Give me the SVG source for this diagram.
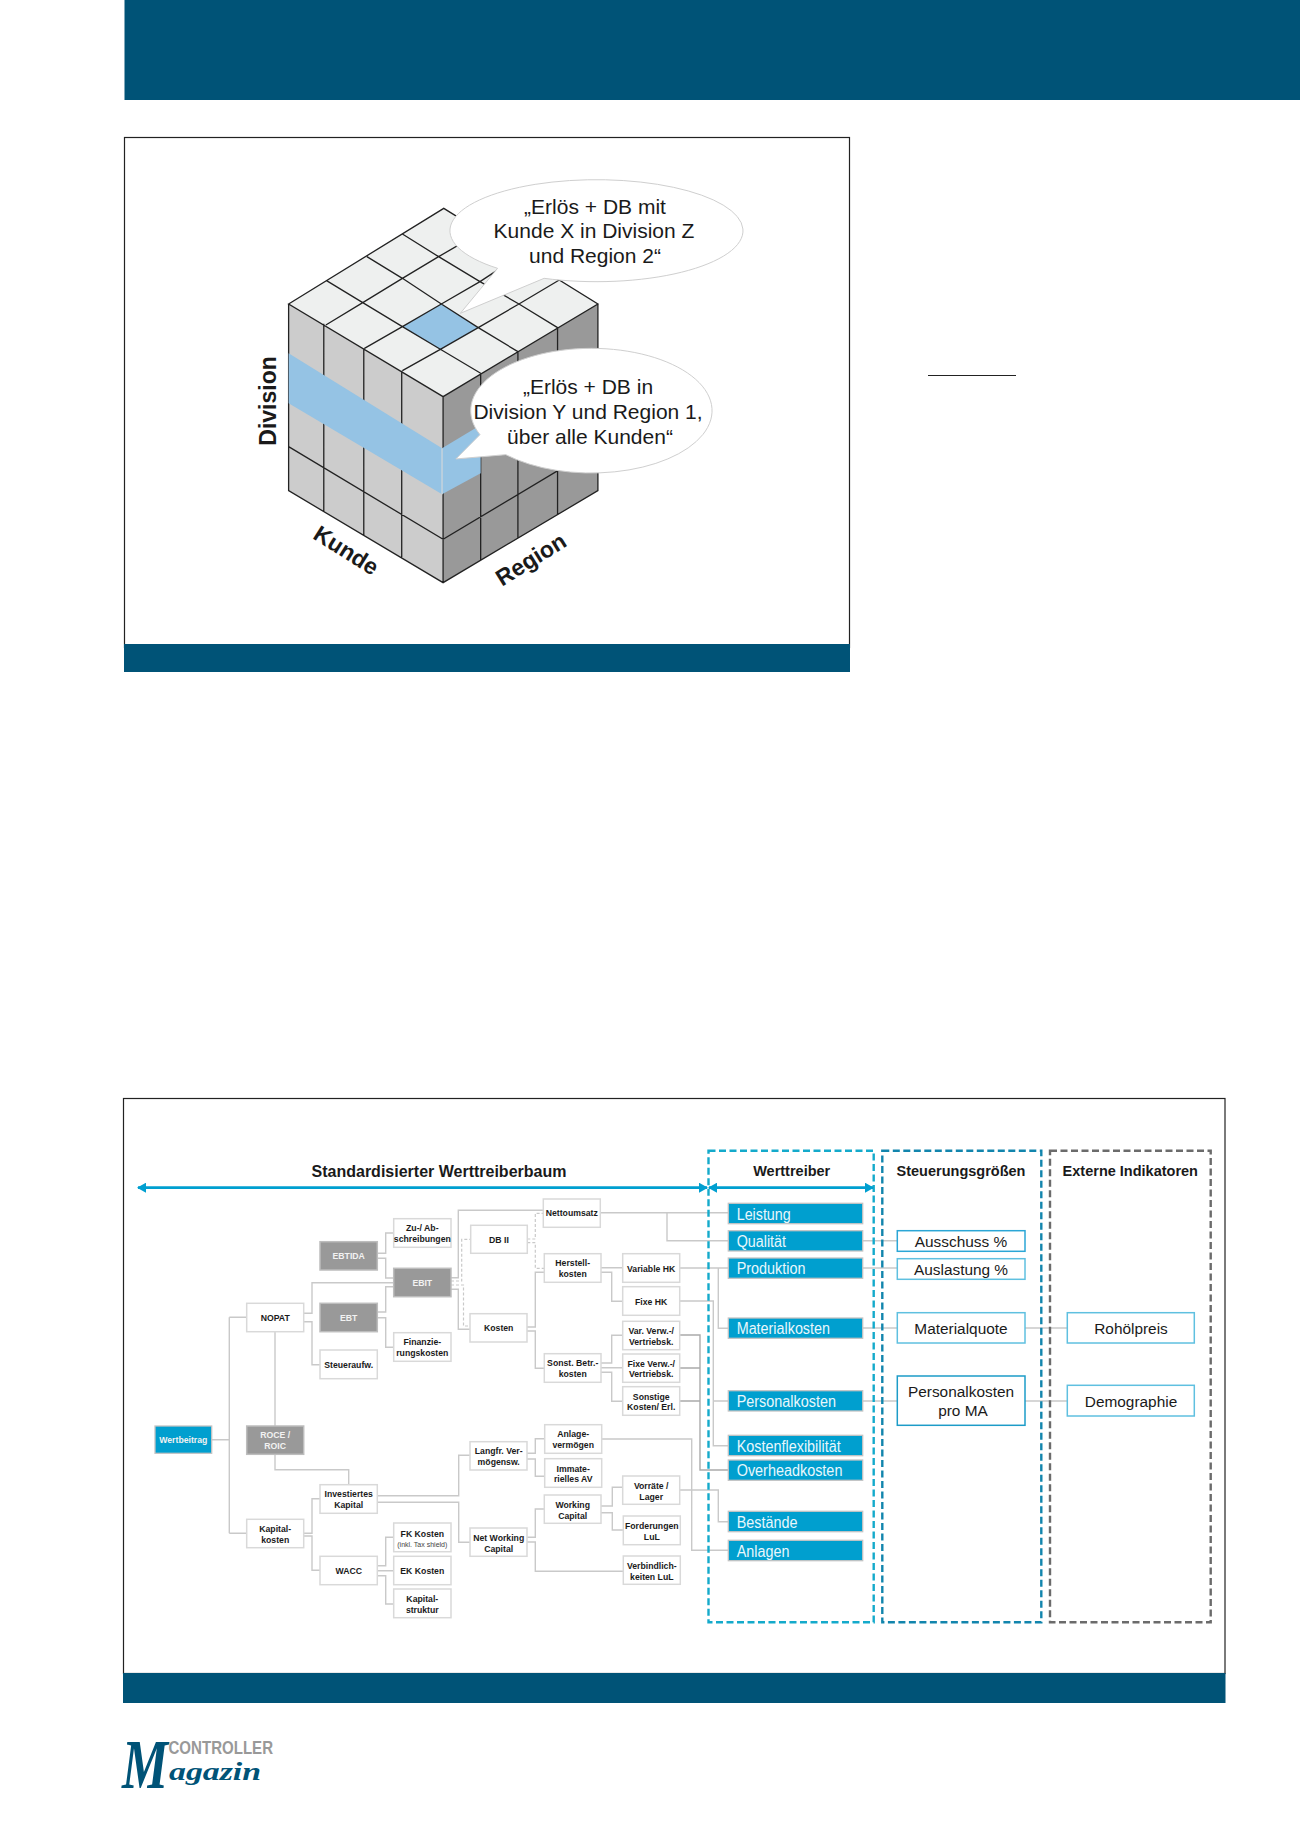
<svg xmlns="http://www.w3.org/2000/svg" width="1300" height="1839" viewBox="0 0 1300 1839">
<style>
text{font-family:"Liberation Sans",Arial,sans-serif;fill:#1a1a1a}
.band{fill:#005377}
.panel{fill:#fff;stroke:#222;stroke-width:1.2}
.cl{fill:none;stroke:#222;stroke-width:1.3;vector-effect:non-scaling-stroke}
.bub{fill:#fff;stroke:#cfcfcf;stroke-width:1;vector-effect:non-scaling-stroke}
.bt{font-size:21px;text-anchor:middle}
.ax{font-size:23px;font-weight:bold;text-anchor:middle}
.n{fill:#fff;stroke:#d9d9d9;stroke-width:1.5}
.g{fill:#999;stroke:#bdbdbd;stroke-width:1.5}
.b{fill:#009fcf;stroke:#c4c4c4;stroke-width:1.3}
.nt{font-size:8.7px;font-weight:bold;text-anchor:middle}
.gt{font-size:8.7px;font-weight:bold;text-anchor:middle;fill:#f2f2f2}
.bl{font-size:16px;fill:#e8f7fc}
.s{fill:#fff;stroke-width:1.5}
.st{font-size:15.4px;text-anchor:middle}
.h{font-size:14.5px;font-weight:bold;text-anchor:middle}
.c{fill:none;stroke:#c9c9c9;stroke-width:1.4}
.d{fill:none;stroke:#c9c9c9;stroke-width:1.2;stroke-dasharray:3 2}
.dash{fill:none;stroke-width:2.4;stroke-dasharray:7 3.5}
.arr{stroke:#009fd0;stroke-width:2.8;fill:none}
</style>
<defs>
<marker id="ah" markerUnits="userSpaceOnUse" markerWidth="9" markerHeight="10" refX="8" refY="5" orient="auto-start-reverse"><path d="M0 0L9 5L0 10Z" fill="#009fd0"/></marker>
</defs>
<rect class="band" x="124.5" y="0" width="1175.5" height="100"/>
<rect class="panel" x="124.5" y="137.5" width="725" height="510"/>
<rect class="band" x="124" y="644" width="726" height="28"/>
<path d="M928 375.5H1016" stroke="#222" stroke-width="1.2" fill="none"/>

<g id="cube" transform="translate(230 160) scale(.3448 .3333)">
<path d="M170 432L620 145L1067 432L618 710Z" fill="#eef0ef"/>
<path d="M170 432L618 710V1268L170 992Z" fill="#ccc"/>
<path d="M618 710L1067 432V992L618 1268Z" fill="#999"/>
<path d="M500 500L613 432L720 503L610 568Z" fill="#95c3e4"/>
<path class="cl" d="M170 432L620 145L1067 432L618 710ZM170 432V992L618 1268L1067 992V432M618 710V1268M272 491V1055M388 565V1125M498 632V1195M727 640V1203M835 575V1135M950 503V1063M170 860L618 1138L1067 860M280 362L385 428L500 500L610 568L727 640M397 290L500 355L613 432L720 503L835 575M500 222L605 290L725 365L838 432L950 503M278 495L385 428L500 355L605 290L730 215M390 565L500 500L613 432L725 365L838 288M500 632L610 568L720 503L838 432L955 360"/>
<path d="M170 580L615 865V1003L170 730Z" fill="#95c3e4"/>
<path d="M615 865L727 795V940L615 1003Z" fill="#95c3e4"/>
<path d="M615 865V1003" stroke="#ddd" fill="none" vector-effect="non-scaling-stroke"/>
</g>
<g id="bubble-top" transform="translate(230 160) scale(.3448 .3333)">
<path class="bub" d="M911 355L668 460L776 325A425 153 0 1 1 911 355Z"/>
</g>
<text class="bt" x="595" y="213.5">„Erlös + DB mit</text>
<text class="bt" x="594" y="238">Kunde X in Division Z</text>
<text class="bt" x="595" y="262.5">und Region 2“</text>
<g id="bubble-bottom" transform="translate(230 160) scale(.3448 .3333)">
<path class="bub" d="M725 824L655 897L800 884A350 187 0 1 0 725 824Z"/>
</g>
<text class="bt" x="588" y="393.5">„Erlös + DB in</text>
<text class="bt" x="588" y="418.5">Division Y und Region 1,</text>
<text class="bt" x="590" y="443.5">über alle Kunden“</text>
<text class="ax" transform="translate(276 401) rotate(-90)">Division</text>
<text class="ax" transform="translate(342 557) rotate(32)">Kunde</text>
<text class="ax" transform="translate(535 566) rotate(-32)">Region</text>

<rect class="panel" x="123.5" y="1098.5" width="1101.5" height="575"/>
<rect class="band" x="123" y="1673" width="1102.5" height="30"/>

<g id="connectors">
<path class="c" d="M211.7 1439.7H229.3M229.3 1317.3V1533.3M229.3 1317.3H246.7M229.3 1533.3H246.7M275 1331.7V1426M303.7 1313.3H312V1282.7H393.7M303.7 1321.7H312V1364.7H320M377.3 1253.3H385.7V1233H393.7M377.3 1258.3H385.7V1278H393.7M377.3 1312H385.7V1286.7H393.7M377.3 1317.7H385.7V1347.3H393.7"/>
<path class="c" d="M451 1277.7H458.3V1210.3H543.3M451 1289.3H458.3V1329.3H470M527 1327H535.3V1272.3H544.3M527 1331H535.3V1368.3H544.3M601 1267.7H622.7M601 1272.3H611.7V1301.3H622.7M601 1363H611.7V1335.3H622.7M601 1367.7H622.7M601 1372.3H611.7V1401.3H622.7"/>
<path class="d" d="M451 1281H461.7V1239.3H470.7M451 1285H463.5V1326H470M527.3 1239H535.3V1213.3H543.3M527.3 1242.7H535.3V1268.3H544.3"/>
<path class="c" d="M601 1212.7H728.3M667 1212.7V1240.7H728.3M679.7 1268H728.3M718.3 1268V1328.3H728.3M679.7 1301H713.3V1445.7H728.3M713.3 1401H728.3"/>
<path class="c" style="stroke:#ababab" d="M679.7 1335H700V1470H728.3M679.7 1368H700M679.7 1401H700"/>
<path class="c" d="M601.7 1439H691.7V1550.3H728.3M679.7 1490H718.3V1521.7H728.3M527 1453.3H535.3V1438.7H544.7M527 1459H535.3V1476.3H544.7M377.3 1495.7H458.7V1455.3H470M377.3 1502.3H458.7V1542.3H470M527 1537.3H535.3V1509H544.3M527 1542H535.3V1571.3H623.3M601 1506H612.3V1487.3H622.7M601 1512.7H612.3V1530H623.3M275 1454.3V1469.7H348.7V1484.7M303.7 1533.3H312V1498.7H320M303.7 1536H312V1570.3H320M377.3 1565.7H385.7V1537.3H393.7M377.3 1570.7H393.7M377.3 1575.7H385.7V1604H393.7"/>
<path class="c" d="M862.7 1240.7H897.3M862.7 1268H897.3M862.7 1328H897.3M862.7 1401H897.3M1025 1328H1067.3M1025 1401H1067.3"/>
</g>

<rect class="dash" x="708.5" y="1150.7" width="165.2" height="471.6" stroke="#14aacb"/>
<rect class="dash" x="882.3" y="1150.7" width="159" height="471.6" stroke="#1285ad"/>
<rect class="dash" x="1050" y="1150.7" width="160.7" height="471.6" stroke="#6b6b6b"/>
<path class="arr" marker-start="url(#ah)" marker-end="url(#ah)" d="M138 1187.7H707"/>
<path class="arr" marker-start="url(#ah)" marker-end="url(#ah)" d="M709 1187.7H873"/>
<text class="h" x="439" y="1177" style="font-size:16px">Standardisierter Werttreiberbaum</text>
<text class="h" x="791.7" y="1176">Werttreiber</text>
<text class="h" x="961" y="1176">Steuerungsgrößen</text>
<text class="h" x="1130.3" y="1176">Externe Indikatoren</text>

<g id="wertbeitrag"><rect x="155" y="1426" width="56.7" height="27.3" fill="#009fcf" stroke="#c4c4c4" stroke-width="1.3"/><text class="gt" x="183.3" y="1443">Wertbeitrag</text></g>
<g id="nopat"><rect class="n" x="246.7" y="1303.3" width="57" height="28.4"/><text class="nt" x="275.2" y="1321">NOPAT</text></g>
<g id="roce"><rect class="g" x="246.7" y="1426" width="57" height="28.3"/><text class="gt" x="275.2" y="1438">ROCE /</text><text class="gt" x="275.2" y="1449">ROIC</text></g>
<g id="kapitalkosten"><rect class="n" x="246.7" y="1519.3" width="57" height="28.4"/><text class="nt" x="275.2" y="1532">Kapital-</text><text class="nt" x="275.2" y="1542.7">kosten</text></g>
<g id="ebtida"><rect class="g" x="320" y="1241.7" width="57.3" height="28.3"/><text class="gt" x="348.7" y="1259">EBTIDA</text></g>
<g id="ebt"><rect class="g" x="320" y="1303.3" width="57.3" height="28.4"/><text class="gt" x="348.7" y="1321">EBT</text></g>
<g id="steuer"><rect class="n" x="320" y="1350" width="57.3" height="28.7"/><text class="nt" x="348.7" y="1368">Steueraufw.</text></g>
<g id="invest"><rect class="n" x="320" y="1484.7" width="57.3" height="28.6"/><text class="nt" x="348.7" y="1497">Investiertes</text><text class="nt" x="348.7" y="1508">Kapital</text></g>
<g id="wacc"><rect class="n" x="320" y="1556.3" width="57.3" height="28.4"/><text class="nt" x="348.7" y="1574">WACC</text></g>
<g id="zuab"><rect class="n" x="393.7" y="1218.7" width="57.3" height="28.6"/><text class="nt" x="422.3" y="1231">Zu-/ Ab-</text><text class="nt" x="422.3" y="1242">schreibungen</text></g>
<g id="ebit"><rect class="g" x="393.7" y="1268.3" width="57.3" height="28.4"/><text class="gt" x="422.3" y="1286">EBIT</text></g>
<g id="finanz"><rect class="n" x="393.7" y="1332.7" width="57.3" height="28.6"/><text class="nt" x="422.3" y="1345">Finanzie-</text><text class="nt" x="422.3" y="1356">rungskosten</text></g>
<g id="fk"><rect class="n" x="393.7" y="1523" width="57.3" height="28.7"/><text class="nt" x="422.3" y="1537">FK Kosten</text><text x="422.3" y="1546.5" text-anchor="middle" font-size="7" style="fill:#444">(inkl. Tax shield)</text></g>
<g id="ek"><rect class="n" x="393.7" y="1556.3" width="57.3" height="28.4"/><text class="nt" x="422.3" y="1574">EK Kosten</text></g>
<g id="struktur"><rect class="n" x="393.7" y="1589" width="57.3" height="28.7"/><text class="nt" x="422.3" y="1602">Kapital-</text><text class="nt" x="422.3" y="1612.7">struktur</text></g>
<g id="db2"><rect class="n" x="470.7" y="1225.3" width="56.6" height="28"/><text class="nt" x="499" y="1243">DB II</text></g>
<g id="kosten"><rect class="n" x="470" y="1313.7" width="57" height="28.3"/><text class="nt" x="498.7" y="1331">Kosten</text></g>
<g id="langfr"><rect class="n" x="470" y="1441.7" width="57" height="28.3"/><text class="nt" x="498.7" y="1454">Langfr. Ver-</text><text class="nt" x="498.7" y="1465">mögensw.</text></g>
<g id="netwc"><rect class="n" x="470" y="1528" width="57" height="28.3"/><text class="nt" x="498.7" y="1540.5">Net Working</text><text class="nt" x="498.7" y="1551.5">Capital</text></g>
<g id="netto"><rect class="n" x="543.3" y="1199" width="57" height="28.3"/><text class="nt" x="571.8" y="1216">Nettoumsatz</text></g>
<g id="herstell"><rect class="n" x="544.3" y="1253.7" width="56.7" height="28.6"/><text class="nt" x="572.7" y="1266">Herstell-</text><text class="nt" x="572.7" y="1277">kosten</text></g>
<g id="sonst"><rect class="n" x="544.3" y="1353.7" width="56.7" height="28.6"/><text class="nt" x="572.7" y="1366">Sonst. Betr.-</text><text class="nt" x="572.7" y="1377">kosten</text></g>
<g id="anlage"><rect class="n" x="544.7" y="1424.7" width="57" height="28.6"/><text class="nt" x="573.2" y="1437">Anlage-</text><text class="nt" x="573.2" y="1448">vermögen</text></g>
<g id="immat"><rect class="n" x="544.7" y="1458.7" width="57" height="28.6"/><text class="nt" x="573.2" y="1471.5">Immate-</text><text class="nt" x="573.2" y="1482">rielles AV</text></g>
<g id="working"><rect class="n" x="544.3" y="1495" width="56.7" height="28.3"/><text class="nt" x="572.7" y="1507.5">Working</text><text class="nt" x="572.7" y="1518.5">Capital</text></g>
<g id="varhk"><rect class="n" x="622.7" y="1253.7" width="57" height="28.6"/><text class="nt" x="651.2" y="1271.5">Variable HK</text></g>
<g id="fixhk"><rect class="n" x="622.7" y="1286.7" width="57" height="28.6"/><text class="nt" x="651.2" y="1304.5">Fixe HK</text></g>
<g id="varverw"><rect class="n" x="622.7" y="1321.3" width="57" height="28.4"/><text class="nt" x="651.2" y="1334">Var. Verw.-/</text><text class="nt" x="651.2" y="1344.5">Vertriebsk.</text></g>
<g id="fixverw"><rect class="n" x="622.7" y="1354" width="57" height="28.3"/><text class="nt" x="651.2" y="1366.5">Fixe Verw.-/</text><text class="nt" x="651.2" y="1377">Vertriebsk.</text></g>
<g id="sonstige"><rect class="n" x="622.7" y="1386.7" width="57" height="28.6"/><text class="nt" x="651.2" y="1399.5">Sonstige</text><text class="nt" x="651.2" y="1410">Kosten/ Erl.</text></g>
<g id="vorraete"><rect class="n" x="622.7" y="1476" width="57" height="28.3"/><text class="nt" x="651.2" y="1488.5">Vorräte /</text><text class="nt" x="651.2" y="1499.5">Lager</text></g>
<g id="forderungen"><rect class="n" x="623.3" y="1516" width="57" height="28.7"/><text class="nt" x="651.8" y="1528.5">Forderungen</text><text class="nt" x="651.8" y="1539.5">LuL</text></g>
<g id="verbindl"><rect class="n" x="623.3" y="1556" width="57" height="28.3"/><text class="nt" x="651.8" y="1568.5">Verbindlich-</text><text class="nt" x="651.8" y="1579.5">keiten LuL</text></g>

<g id="leistung"><rect class="b" x="728.3" y="1203.3" width="134.4" height="20.4"/><text class="bl" x="736.7" y="1220" textLength="54" lengthAdjust="spacingAndGlyphs">Leistung</text></g>
<g id="qualitaet"><rect class="b" x="728.3" y="1230.7" width="134.4" height="20.3"/><text class="bl" x="736.7" y="1247" textLength="49.3" lengthAdjust="spacingAndGlyphs">Qualität</text></g>
<g id="produktion"><rect class="b" x="728.3" y="1258" width="134.4" height="20.3"/><text class="bl" x="736.7" y="1274" textLength="68.7" lengthAdjust="spacingAndGlyphs">Produktion</text></g>
<g id="material"><rect class="b" x="728.3" y="1318" width="134.4" height="20.3"/><text class="bl" x="736.7" y="1334" textLength="93.3" lengthAdjust="spacingAndGlyphs">Materialkosten</text></g>
<g id="personal"><rect class="b" x="728.3" y="1390.7" width="134.4" height="20.3"/><text class="bl" x="736.7" y="1407" textLength="99.3" lengthAdjust="spacingAndGlyphs">Personalkosten</text></g>
<g id="flex"><rect class="b" x="728.3" y="1435.3" width="134.4" height="20.4"/><text class="bl" x="736.7" y="1451.5" textLength="104" lengthAdjust="spacingAndGlyphs">Kostenflexibilität</text></g>
<g id="overhead"><rect class="b" x="728.3" y="1460" width="134.4" height="20.3"/><text class="bl" x="736.7" y="1476" textLength="105.7" lengthAdjust="spacingAndGlyphs">Overheadkosten</text></g>
<g id="bestaende"><rect class="b" x="728.3" y="1511.3" width="134.4" height="20.4"/><text class="bl" x="736.7" y="1527.5" textLength="60.7" lengthAdjust="spacingAndGlyphs">Bestände</text></g>
<g id="anlagen"><rect class="b" x="728.3" y="1540.3" width="134.4" height="20.4"/><text class="bl" x="736.7" y="1556.5" textLength="52.7" lengthAdjust="spacingAndGlyphs">Anlagen</text></g>

<g id="ausschuss"><rect class="s" stroke="#2ba6d6" x="897.3" y="1230.7" width="127.7" height="20.6"/><text class="st" x="961" y="1247">Ausschuss %</text></g>
<g id="auslastung"><rect class="s" stroke="#5fc0e0" x="897.3" y="1258.7" width="127.7" height="20.6"/><text class="st" x="961" y="1275">Auslastung %</text></g>
<g id="materialquote"><rect class="s" stroke="#5fc0e0" x="897.3" y="1312.7" width="127.7" height="30.3"/><text class="st" x="961" y="1334">Materialquote</text></g>
<g id="proma"><rect class="s" stroke="#1d9cc8" x="897.3" y="1376" width="127.7" height="49.3"/><text class="st" x="961" y="1397">Personalkosten</text><text class="st" x="963" y="1416">pro MA</text></g>
<g id="rohoel"><rect class="s" stroke="#5fc0e0" x="1067.3" y="1312.7" width="127" height="30.3"/><text class="st" x="1131" y="1334">Rohölpreis</text></g>
<g id="demographie"><rect class="s" stroke="#5fc0e0" x="1067.3" y="1385.3" width="127" height="30.7"/><text class="st" x="1131" y="1407">Demographie</text></g>

<g id="logo">
<text x="168.5" y="1754" font-size="19" font-weight="bold" textLength="104.5" lengthAdjust="spacingAndGlyphs" style="fill:#999">CONTROLLER</text>
<text style="font-family:'Liberation Serif',serif;font-style:italic;font-weight:bold;fill:#005377"><tspan x="122" y="1788" font-size="70" textLength="46" lengthAdjust="spacingAndGlyphs">M</tspan><tspan x="169" y="1780" font-size="25" textLength="92" lengthAdjust="spacingAndGlyphs">agazin</tspan></text>
</g>
</svg>
